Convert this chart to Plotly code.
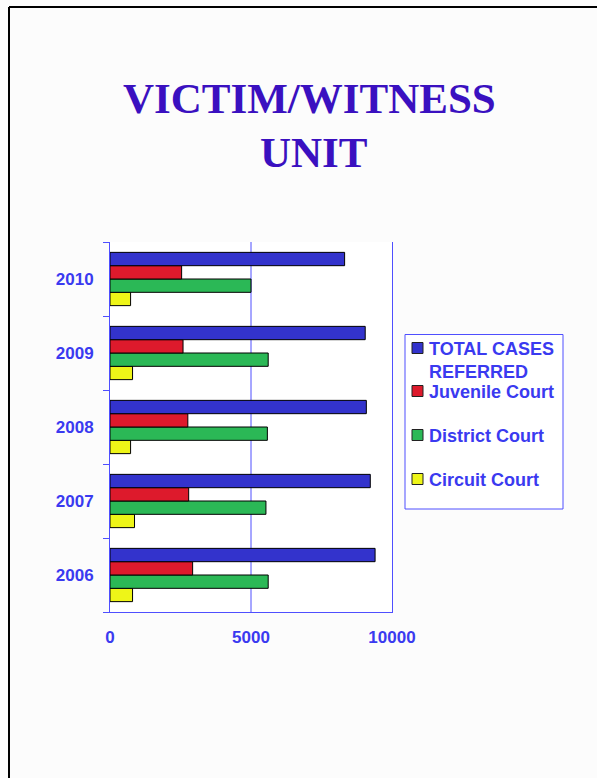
import plotly.graph_objects as go

years = ["2006", "2007", "2008", "2009", "2010"]
total_cases = [9400, 9230, 9090, 9050, 8320]
juvenile = [2930, 2790, 2760, 2590, 2540]
district = [5610, 5530, 5580, 5610, 5000]
circuit = [800, 870, 730, 800, 730]

series_names = ["TOTAL CASES<br>REFERRED", "Juvenile Court", "District Court", "Circuit Court"]
series_values = [total_cases, juvenile, district, circuit]
series_colors = ["#3333CC", "#DD1A2C", "#2BB856", "#EEF518"]

x_ticks = [0, 5000, 10000]

W, H = 597, 778
L, R, T, B = 110, 392, 242, 612

def px_x(p):
    return (p - L) / (R - L)

def px_y(p):
    return (B - p) / (B - T)

fig = go.Figure()
# add in reverse so TOTAL is the top bar in each group
for i in reversed(range(4)):
    fig.add_trace(go.Bar(
        y=years, x=series_values[i], orientation="h", name=series_names[i],
        marker=dict(color=series_colors[i], line=dict(color="#000000", width=1)),
        showlegend=False,
    ))

blue_txt = "#3A3AF0"
axis_blue = "#4F4FFF"
fig.update_layout(
    width=W, height=H,
    margin=dict(l=L, r=W - R, t=T, b=H - B, autoexpand=False),
    paper_bgcolor="#FCFCFC", plot_bgcolor="#FFFFFF",
    barmode="group", bargap=0.28, bargroupgap=0,
    showlegend=False,
    xaxis=dict(
        range=[0, 10000], tickvals=x_ticks, ticktext=[str(v) for v in x_ticks],
        showgrid=False,
        showline=True, linecolor=axis_blue, linewidth=1,
        zeroline=False, ticks="", ticklabelstandoff=10,
        tickfont=dict(family="Liberation Sans, Arial", size=17, color=blue_txt, weight="bold"),
    ),
    yaxis=dict(
        type="category", showline=True, linecolor=axis_blue, linewidth=1, mirror=True,
        ticks="outside", tickson="boundaries", ticklen=6, tickcolor=axis_blue,
        showgrid=False, ticklabelstandoff=12,
        tickfont=dict(family="Liberation Sans, Arial", size=17, color=blue_txt, weight="bold"),
    ),
    font=dict(family="Liberation Sans, Arial"),
)

# vertical gridlines at the x tick values
for v in x_ticks[1:-1]:
    fig.add_shape(type="line", xref="x", yref="paper", x0=v, x1=v, y0=0, y1=1,
                  line=dict(color=axis_blue, width=1), layer="below")

# title
fig.add_annotation(text="<b>VICTIM/WITNESS</b>", x=px_x(309), y=px_y(98), xref="paper", yref="paper",
                   showarrow=False, xanchor="center", yanchor="middle",
                   font=dict(family="Liberation Serif, Times New Roman", size=43, color="#3A10C0"))
fig.add_annotation(text="<b>UNIT</b>", x=px_x(314), y=px_y(152), xref="paper", yref="paper",
                   showarrow=False, xanchor="center", yanchor="middle",
                   font=dict(family="Liberation Serif, Times New Roman", size=43, color="#3A10C0"))

# legend box
fig.add_shape(type="rect", xref="paper", yref="paper",
              x0=px_x(405), x1=px_x(563), y0=px_y(334.5), y1=px_y(509),
              line=dict(color=axis_blue, width=1), fillcolor="#FFFFFF", layer="below")
legend_rows = [348, 391, 435, 479]
for i in range(4):
    yc = legend_rows[i]
    fig.add_shape(type="rect", xref="paper", yref="paper",
                  x0=px_x(412), x1=px_x(423), y0=px_y(yc - 5.5), y1=px_y(yc + 5.5),
                  line=dict(color="#222222", width=1), fillcolor=series_colors[i])
    fig.add_annotation(text="<b>%s</b>" % series_names[i], x=px_x(428), y=px_y(yc - 10),
                       xref="paper", yref="paper", showarrow=False,
                       xanchor="left", yanchor="top", align="left", borderpad=0,
                       font=dict(family="Liberation Sans, Arial", size=18, color=blue_txt))

# page frame (top and left edges)
fig.add_shape(type="line", xref="paper", yref="paper", x0=px_x(9), x1=px_x(W), y0=px_y(7), y1=px_y(7),
              line=dict(color="#000000", width=2))
fig.add_shape(type="line", xref="paper", yref="paper", x0=px_x(9), x1=px_x(9), y0=px_y(7), y1=px_y(H),
              line=dict(color="#000000", width=2))

fig.write_html("out.html", config={"displayModeBar": False},
               post_script="document.body.style.margin='0';document.body.style.background='#FCFCFC';")
